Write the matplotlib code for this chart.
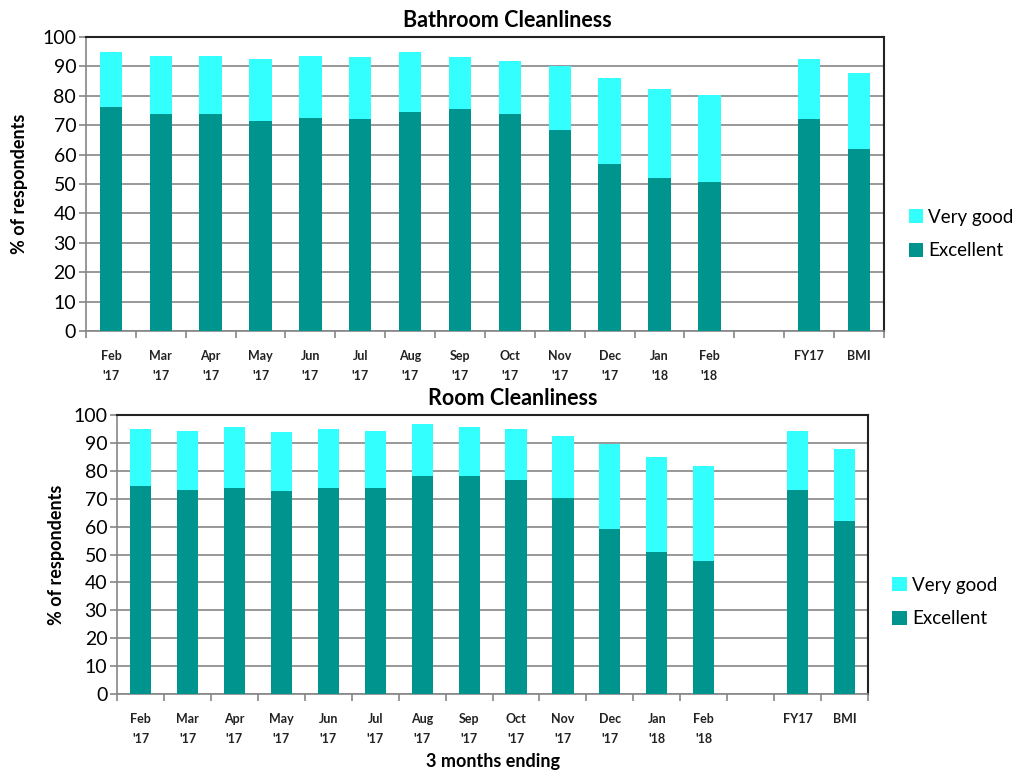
import numpy as np
import matplotlib.pyplot as plt

plt.rcParams['font.family'] = ['Lato', 'DejaVu Sans']

# categorias (13 meses, hueco, FY17, BMI)
labels = ["Feb\n'17", "Mar\n'17", "Apr\n'17", "May\n'17", "Jun\n'17", "Jul\n'17",
          "Aug\n'17", "Sep\n'17", "Oct\n'17", "Nov\n'17", "Dec\n'17", "Jan\n'18",
          "Feb\n'18", "", "FY17", "BMI"]

# Bathroom Cleanliness: % excelente y % total (excelente + muy bueno)
bath_exc = [76.1, 73.7, 73.7, 71.4, 72.6, 72.0, 74.4, 75.5, 73.7, 68.5, 56.8, 52.0, 50.8, np.nan, 72.0, 61.9]
bath_tot = [94.9, 93.7, 93.7, 92.5, 93.7, 93.1, 94.9, 93.1, 91.8, 90.0, 86.1, 82.5, 80.2, np.nan, 92.5, 87.9]

# Room Cleanliness
room_exc = [74.4, 73.2, 73.8, 72.6, 73.8, 73.8, 78.0, 78.0, 76.7, 70.1, 59.1, 50.8, 47.8, np.nan, 73.2, 62.0]
room_tot = [95.0, 94.4, 95.6, 93.8, 95.0, 94.4, 96.8, 95.6, 95.0, 92.6, 89.6, 84.9, 81.9, np.nan, 94.4, 87.9]

c_exc = '#00948F'
c_vg = '#33FFFF'
gris = '#868686'


def panel(ax, exc, tot, titulo, tx):
    x = np.arange(len(labels))
    exc = np.array(exc)
    vg = np.array(tot) - exc
    ax.bar(x, exc, width=0.45, color=c_exc, label='Excellent', zorder=3)
    ax.bar(x, vg, bottom=exc, width=0.45, color=c_vg, label='Very good', zorder=3)
    ax.set_xlim(-0.5, len(labels) - 0.5)
    ax.set_ylim(0, 100)
    ax.set_yticks(range(0, 101, 10))
    ax.yaxis.grid(True, color=gris, linewidth=1.2, zorder=0)
    ax.set_xticks(x)
    ax.set_xticklabels(labels, fontsize=9, fontweight='bold', color='#222222', linespacing=1.75)
    ax.tick_params(axis='x', length=0, pad=14)
    ax.set_xticks(np.arange(-0.5, len(labels)), minor=True)
    ax.tick_params(axis='x', which='minor', length=5, color=gris, width=1.2)
    ax.tick_params(axis='y', length=5, color=gris, width=1.2, labelsize=14, pad=2)
    for s in ['left', 'bottom']:
        ax.spines[s].set_color(gris)
        ax.spines[s].set_linewidth(1.2)
    for s in ['top', 'right']:
        ax.spines[s].set_color('#222222')
        ax.spines[s].set_linewidth(1.5)
    ax.set_ylabel('% of respondents', fontsize=13, fontweight='bold')
    ax.set_title(titulo, fontsize=15.5, fontweight='bold', pad=7, x=tx)
    h, l = ax.get_legend_handles_labels()
    ax.legend(h[::-1], l[::-1], loc='center left', bbox_to_anchor=(1.01, 0.33),
              frameon=False, fontsize=13.5, handlelength=0.75, handleheight=0.75,
              handletextpad=0.3, labelspacing=0.9)


fig = plt.figure(figsize=(10.16, 7.72), dpi=100)
ax1 = fig.add_axes([0.0846, 0.5712, 0.7854, 0.3808])
ax2 = fig.add_axes([0.1152, 0.1010, 0.7392, 0.3614])

panel(ax1, bath_exc, bath_tot, 'Bathroom Cleanliness', 0.528)
panel(ax2, room_exc, room_tot, 'Room Cleanliness', 0.527)
ax1.yaxis.labelpad = 10
ax2.yaxis.labelpad = 6
ax2.set_xlabel('3 months ending', fontsize=13, fontweight='bold', labelpad=6)

fig.savefig('out.png', dpi=100)
